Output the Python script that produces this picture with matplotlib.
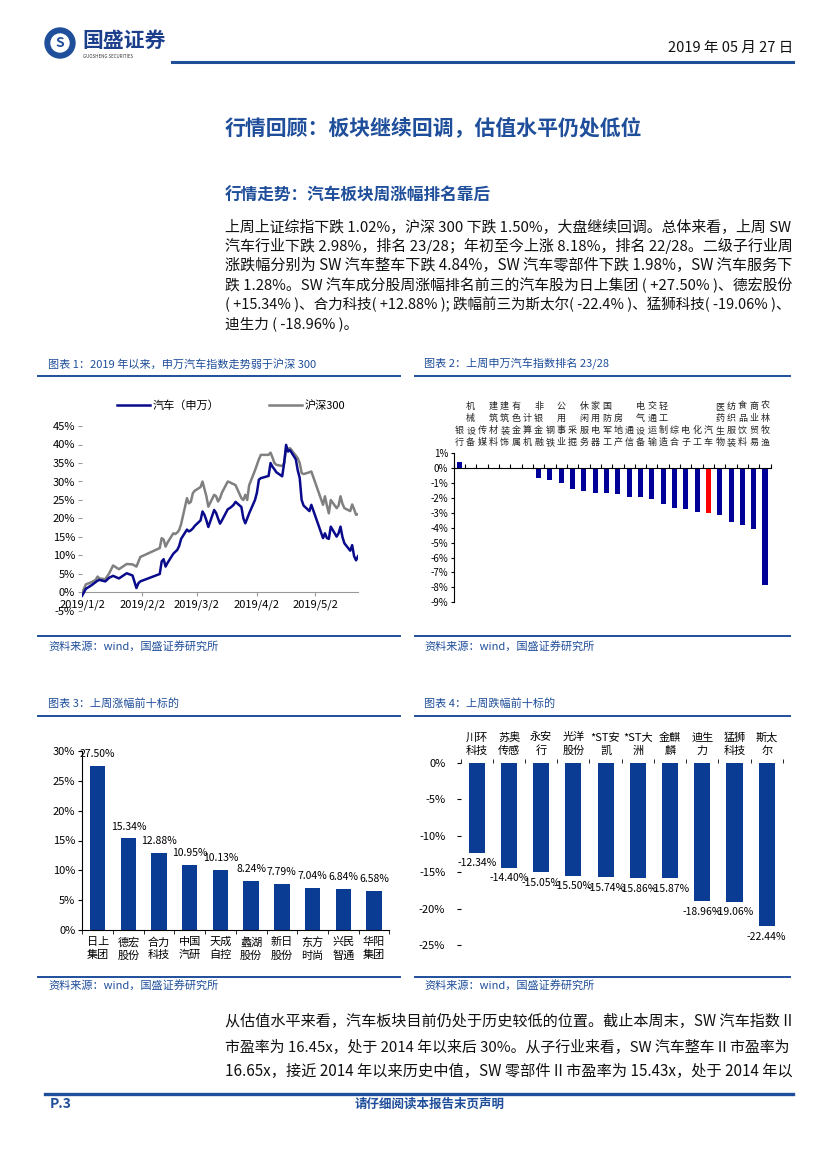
import matplotlib
matplotlib.use("Agg")
import matplotlib.pyplot as plt
import matplotlib.transforms as mtransforms
from matplotlib.patches import Ellipse
from matplotlib.lines import Line2D
from matplotlib.ticker import FuncFormatter
import numpy as np
import pandas as pd

plt.rcParams["font.family"] = ["Noto Sans CJK SC", "DejaVu Sans"]
plt.rcParams["axes.unicode_minus"] = False

# ---- chart 1: index trend since 2019 (%) ----
trend_dates = [
    "2019-01-02", "2019-01-04", "2019-01-07", "2019-01-09", "2019-01-10", "2019-01-11", "2019-01-14",
    "2019-01-16", "2019-01-18", "2019-01-21", "2019-01-23", "2019-01-25", "2019-01-28", "2019-01-30",
    "2019-01-31", "2019-02-01", "2019-02-11", "2019-02-12", "2019-02-13", "2019-02-14", "2019-02-15",
    "2019-02-18", "2019-02-19", "2019-02-20", "2019-02-21", "2019-02-22", "2019-02-25", "2019-02-26",
    "2019-02-27", "2019-02-28", "2019-03-01", "2019-03-04", "2019-03-05", "2019-03-06", "2019-03-07",
    "2019-03-08", "2019-03-11", "2019-03-12", "2019-03-13", "2019-03-14", "2019-03-15", "2019-03-18",
    "2019-03-19", "2019-03-20", "2019-03-21", "2019-03-22", "2019-03-25", "2019-03-26", "2019-03-27",
    "2019-03-28", "2019-03-29", "2019-04-01", "2019-04-02", "2019-04-03", "2019-04-04", "2019-04-08",
    "2019-04-09", "2019-04-10", "2019-04-11", "2019-04-12", "2019-04-15", "2019-04-16", "2019-04-17",
    "2019-04-18", "2019-04-19", "2019-04-22", "2019-04-23", "2019-04-24", "2019-04-25", "2019-04-26",
    "2019-04-29", "2019-04-30", "2019-05-06", "2019-05-07", "2019-05-08", "2019-05-09", "2019-05-10",
    "2019-05-13", "2019-05-14", "2019-05-15", "2019-05-16", "2019-05-17", "2019-05-20", "2019-05-21",
    "2019-05-22", "2019-05-23", "2019-05-24",
]
auto_sw = [
    -0.9, 1.0, 2.0, 2.8, 3.2, 3.4, 3.0, 4.0, 4.5, 3.8, 4.5, 5.2, 4.6, 1.2, 2.5,
    3.0, 5.0, 8.4, 9.0, 7.0, 8.0, 10.5, 11.0, 11.5, 12.6, 14.5, 17.0, 16.5, 16.8, 17.3,
    18.0, 19.5, 21.9, 21.0, 19.5, 17.7, 22.3, 21.5, 20.0, 18.6, 19.5, 22.5, 22.8, 23.2, 23.7,
    24.5, 23.1, 20.1, 18.7, 20.0, 21.4,
    25.0, 27.0, 30.5, 30.9, 31.5, 35.0, 34.0, 33.3, 32.5, 31.4, 35.0, 39.9, 38.1, 38.5, 36.0,
    33.0, 31.0, 25.0, 23.5, 22.0, 23.7,
    14.7, 16.0, 14.7, 14.5, 17.8, 15.1, 16.0, 17.8, 15.0, 13.3, 11.3, 12.8, 9.8, 8.7, 9.8,
]
hs300 = [
    -0.2, 2.2, 2.8, 3.4, 4.3, 3.8, 3.6, 5.2, 7.3, 6.3, 7.0, 7.7, 7.6, 7.0, 8.3,
    9.6, 12.0, 14.7, 14.3, 12.4, 13.5, 16.0, 15.8, 16.2, 16.9, 18.5, 25.5, 24.1, 24.5, 26.8,
    27.5, 28.5, 30.0, 28.0, 26.0, 23.2, 26.4, 26.0, 24.6, 25.5, 27.0, 30.0, 29.8, 29.5, 29.3,
    29.0, 25.5, 25.0, 26.4, 25.0, 29.0,
    33.0, 34.5, 36.0, 37.2, 37.2, 37.8, 36.5, 35.0, 34.5, 34.2, 35.0, 38.6, 38.8, 39.0, 37.0,
    36.3, 35.0, 32.3, 32.0, 32.5, 32.7,
    23.7, 26.0, 23.5, 21.4, 25.0, 22.8, 23.5, 26.0, 24.0, 22.8, 22.0, 23.8, 22.5, 21.0, 21.2,
]
trend_ticks = ["2019-01-02", "2019-02-02", "2019-03-02", "2019-04-02", "2019-05-02"]
trend_tick_labels = ["2019/1/2", "2019/2/2", "2019/3/2", "2019/4/2", "2019/5/2"]

# ---- chart 2: SW industry weekly change (%) ----
ind_names = ["银行", "机械设备", "传媒", "建筑材料", "建筑装饰", "有色金属", "计算机", "非银金融",
             "钢铁", "公用事业", "采掘", "休闲服务", "家用电器", "国防军工", "房地产", "通信",
             "电气设备", "交通运输", "轻工制造", "综合", "电子", "化工", "汽车", "医药生物",
             "纺织服装", "食品饮料", "商业贸易", "农林牧渔"]
ind_chg = [0.44, 0.02, 0.01, 0.0, -0.01, -0.04, -0.06, -0.69, -0.76, -0.96, -1.42, -1.56,
           -1.69, -1.69, -1.76, -1.96, -1.96, -2.09, -2.40, -2.69, -2.76, -2.96, -2.98,
           -3.16, -3.62, -3.82, -4.09, -7.82]

# ---- chart 3 / 4: top gainers and losers (%) ----
gain_names = ["日上集团", "德宏股份", "合力科技", "中国汽研", "天成自控",
              "蠡湖股份", "新日股份", "东方时尚", "兴民智通", "华阳集团"]
gain_vals = [27.50, 15.34, 12.88, 10.95, 10.13, 8.24, 7.79, 7.04, 6.84, 6.58]
loss_names = ["川环科技", "苏奥传感", "永安行", "光洋股份", "*ST安凯",
              "*ST大洲", "金麒麟", "迪生力", "猛狮科技", "斯太尔"]
loss_vals = [-12.34, -14.40, -15.05, -15.50, -15.74, -15.86, -15.87, -18.96, -19.06, -22.44]

para1 = [
    "上周上证综指下跌 1.02%，沪深 300 下跌 1.50%，大盘继续回调。总体来看，上周 SW",
    "汽车行业下跌 2.98%，排名 23/28；年初至今上涨 8.18%，排名 22/28。二级子行业周",
    "涨跌幅分别为 SW 汽车整车下跌 4.84%，SW 汽车零部件下跌 1.98%，SW 汽车服务下",
    "跌 1.28%。SW 汽车成分股周涨幅排名前三的汽车股为日上集团 ( +27.50% )、德宏股份",
    "( +15.34% )、合力科技( +12.88% ); 跌幅前三为斯太尔( -22.4% )、猛狮科技( -19.06% )、",
    "迪生力 ( -18.96% )。",
]
para2 = [
    "从估值水平来看，汽车板块目前仍处于历史较低的位置。截止本周末，SW 汽车指数 II",
    "市盈率为 16.45x，处于 2014 年以来后 30%。从子行业来看，SW 汽车整车 II 市盈率为",
    "16.65x，接近 2014 年以来历史中值，SW 零部件 II 市盈率为 15.43x，处于 2014 年以",
]

W, H = 827, 1169
BLUE = "#1f4e9a"
NAVY = "#0a0a8c"
BAR = "#0b3c93"

fig = plt.figure(figsize=(W / 100, H / 100), dpi=100)
renderer = fig.canvas.get_renderer()


def fx(x):
    return x / W


def fy(y):
    return 1 - y / H


def hline(x0, x1, y, lw=1.6, color=BLUE):
    fig.add_artist(Line2D([fx(x0), fx(x1)], [fy(y), fy(y)], color=color, lw=lw))


def para_line(y, s, size, full=True):
    t = fig.text(fx(225), fy(y), s, fontsize=size, va="center", ha="left", color="#111111")
    if full:
        w = t.get_window_extent(renderer).width
        t.set_fontsize(size * min(max(568 / w, 0.92), 1.08))
    return t


# header
fig.add_artist(Ellipse((fx(60), fy(43)), 30 / W, 30 / H, transform=fig.transFigure,
                       color="#1f4e9a"))
fig.add_artist(Ellipse((fx(60), fy(43)), 18 / W, 18 / H, transform=fig.transFigure,
                       color="white"))
fig.text(fx(60), fy(43), "S", fontsize=10, weight="bold", color="#1f4e9a",
         ha="center", va="center")
fig.text(fx(82), fy(40), "国盛证券", fontsize=15, weight="bold", color="#1c3f8c", va="center")
fig.text(fx(83), fy(56), "GUOSHENG SECURITIES", fontsize=3.2, color="#333333", va="center")
fig.text(fx(793), fy(48), "2019 年 05 月 27 日", fontsize=10.5, ha="right", va="center",
         color="#111111")
hline(172, 793, 62, lw=2.2)

# titles
fig.text(fx(225), fy(128), "行情回顾：板块继续回调，估值水平仍处低位", fontsize=15,
         weight="bold", color=BLUE, va="center")
fig.text(fx(225), fy(196), "行情走势：汽车板块周涨幅排名靠后", fontsize=12,
         weight="bold", color=BLUE, va="center")

for i, s in enumerate(para1):
    para_line(227 + i * 19.4, s, 10.5, full=i < len(para1) - 1)
for i, s in enumerate(para2):
    para_line(1022 + i * 24.5, s, 10.5)

# captions / sources
cap_kw = dict(fontsize=8, style="italic", color=BLUE, va="center")
fig.text(fx(48), fy(364), "图表 1：2019 年以来，申万汽车指数走势弱于沪深 300", **cap_kw)
fig.text(fx(424), fy(364), "图表 2：上周申万汽车指数排名 23/28", **cap_kw)
fig.text(fx(48), fy(704), "图表 3：上周涨幅前十标的", **cap_kw)
fig.text(fx(424), fy(704), "图表 4：上周跌幅前十标的", **cap_kw)
for x0, y in [(48, 646), (424, 646), (48, 985), (424, 985)]:
    fig.text(fx(x0), fy(y), "资料来源：wind，国盛证券研究所", **cap_kw)
for y in [376, 636, 716, 977]:
    hline(38, 400, y, lw=1.4)
    hline(415, 790, y, lw=1.4)

# footer
hline(45, 793, 1094, lw=2.4)
fig.text(fx(50), fy(1104), "P.3", fontsize=10, weight="bold", style="italic",
         color=BLUE, va="center")
fig.text(fx(430), fy(1104), "请仔细阅读本报告末页声明", fontsize=9, weight="bold",
         style="italic", color=BLUE, va="center", ha="center")

pct = FuncFormatter(lambda v, _: f"{v:.0f}%")

# chart 1
ax1 = fig.add_axes([fx(82), fy(611), (358 - 82) / W, (611 - 426) / H])
d = pd.to_datetime(trend_dates)
ax1.plot(d, auto_sw, color=NAVY, lw=1.8, label="汽车（申万）", zorder=3)
ax1.plot(d, hs300, color="#808080", lw=1.8, label="沪深300")
ax1.set_xlim(d[0], d[-1])
ax1.set_ylim(-5, 45)
ax1.set_yticks(np.arange(-5, 46, 5))
ax1.yaxis.set_major_formatter(pct)
ax1.set_xticks(pd.to_datetime(trend_ticks))
ax1.set_xticklabels(trend_tick_labels)
for s in ["top", "right", "left"]:
    ax1.spines[s].set_visible(False)
ax1.spines["bottom"].set_position(("data", 0))
ax1.spines["bottom"].set_color("#999999")
ax1.tick_params(axis="both", labelsize=8, length=3, color="#999999", pad=2)
ax1.legend(loc="center", bbox_to_anchor=(fx(231), fy(406)), bbox_transform=fig.transFigure,
           ncol=2, frameon=False, fontsize=8, handlelength=3, columnspacing=4.5,
           handletextpad=0.2)

# chart 2
ax2 = fig.add_axes([fx(453.7), fy(602.3), 317 / W, (602.3 - 453.3) / H])
x2 = np.arange(len(ind_names))
ax2.bar(x2, ind_chg, width=0.45, color=["#ff0000" if n == "汽车" else "#000099" for n in ind_names])
ax2.set_xlim(-0.5, len(ind_names) - 0.5)
ax2.set_ylim(-9, 1)
ax2.set_yticks(np.arange(-9, 2, 1))
ax2.yaxis.set_major_formatter(pct)
ax2.set_xticks(np.arange(-0.5, len(ind_names), 1))
ax2.set_xticklabels([])
for s in ["top", "right"]:
    ax2.spines[s].set_visible(False)
ax2.spines["bottom"].set_position(("data", 0))
ax2.tick_params(axis="x", direction="in", length=3)
ax2.tick_params(axis="y", labelsize=7, length=2, pad=2)
blend = mtransforms.blended_transform_factory(ax2.transData, ax2.transAxes)
for i, n in enumerate(ind_names):
    ax2.text(i, 1.04, "\n".join(n), transform=blend, ha="center", va="bottom",
             fontsize=6.5, linespacing=1.45, color="#222222")


def wrap(name):
    k = 4 if name.startswith("*ST") else 2
    return name[:k] + "\n" + name[k:]


# chart 3
ax3 = fig.add_axes([fx(82.3), fy(930), 307 / W, (930 - 751) / H])
x3 = np.arange(len(gain_names))
ax3.bar(x3, gain_vals, width=0.5, color=BAR)
ax3.set_xlim(-0.5, len(gain_names) - 0.5)
ax3.set_ylim(0, 30)
ax3.set_yticks(np.arange(0, 31, 5))
ax3.yaxis.set_major_formatter(pct)
ax3.set_xticks(x3)
ax3.set_xticklabels([wrap(n) for n in gain_names], fontsize=8, linespacing=1.35)
ax3.set_xticks(np.arange(-0.5, len(gain_names), 1), minor=True)
ax3.tick_params(axis="x", which="major", length=0, pad=5)
ax3.tick_params(axis="x", which="minor", length=3)
ax3.tick_params(axis="y", labelsize=8, length=3, pad=2)
for s in ["top", "right"]:
    ax3.spines[s].set_visible(False)
for i, v in enumerate(gain_vals):
    ax3.annotate(f"{v:.2f}%", (i, v), xytext=(0, 5), textcoords="offset points",
                 ha="center", va="bottom", fontsize=7.5)

# chart 4
ax4 = fig.add_axes([fx(460.6), fy(945), 322.2 / W, (945 - 762.7) / H])
x4 = np.arange(len(loss_names))
ax4.bar(x4, loss_vals, width=0.5, color=BAR)
ax4.set_xlim(-0.5, len(loss_names) - 0.5)
ax4.set_ylim(-25, 0)
ax4.set_yticks(np.arange(-25, 1, 5))
ax4.yaxis.set_major_formatter(pct)
ax4.xaxis.tick_top()
ax4.set_xticks(x4)
ax4.set_xticklabels([wrap(n) for n in loss_names], fontsize=8, linespacing=1.35)
ax4.set_xticks(np.arange(-0.5, len(loss_names), 1), minor=True)
ax4.tick_params(axis="x", which="major", length=0, pad=5)
ax4.tick_params(axis="x", which="minor", length=3, top=True, bottom=False)
ax4.tick_params(axis="y", labelsize=8, length=3, pad=8)
for s in ["top", "right", "left", "bottom"]:
    ax4.spines[s].set_visible(False)
for i, v in enumerate(loss_vals):
    ax4.annotate(f"{v:.2f}%", (i, v), xytext=(0, -4), textcoords="offset points",
                 ha="center", va="top", fontsize=7.5)

fig.savefig("out.png", dpi=100)
